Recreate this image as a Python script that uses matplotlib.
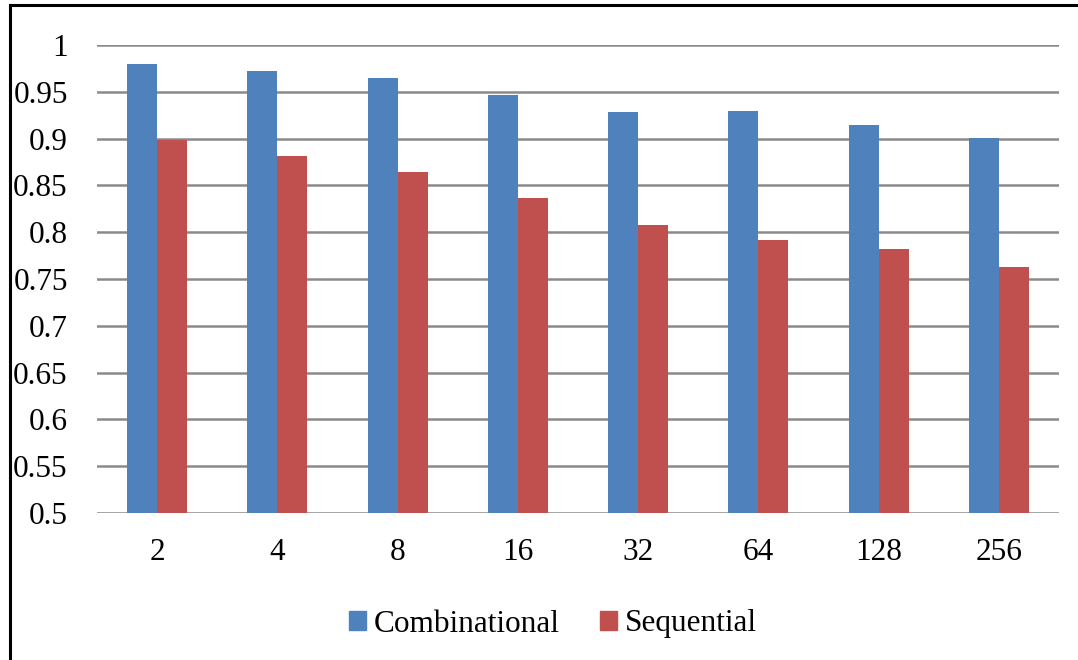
import numpy as np
import matplotlib.pyplot as plt
from matplotlib.lines import Line2D
from matplotlib.patches import Patch

sizes = ["2", "4", "8", "16", "32", "64", "128", "256"]
combinational = [0.980, 0.972, 0.965, 0.947, 0.928, 0.930, 0.915, 0.901]
sequential = [0.898, 0.881, 0.864, 0.837, 0.808, 0.792, 0.782, 0.763]

blue = "#4f81bd"
red = "#c0504d"

plt.rcParams['font.family'] = ['Liberation Serif', 'DejaVu Serif']

def main():
    fig = plt.figure(figsize=(10.78, 6.6), dpi=100)
    ax = fig.add_axes([97/1078, 1 - 513/660, (1059 - 97)/1078, (513 - 45)/660])

    x = np.arange(len(sizes))
    w = 0.25
    ax.bar(x - w/2, combinational, w, color=blue, zorder=3, label="Combinational")
    ax.bar(x + w/2, sequential, w, color=red, zorder=3, label="Sequential")

    ax.set_xlim(-0.5, len(sizes) - 0.5)
    ax.set_ylim(0.5, 1.0)
    yt = np.arange(0.5, 1.001, 0.05)
    ax.set_yticks(yt)
    ax.set_yticklabels([f"{v:.2f}".rstrip("0").rstrip(".") for v in yt])
    ax.set_xticks(x)
    ax.set_xticklabels(sizes)
    ax.tick_params(axis="both", length=0, labelsize=22.5)
    ax.tick_params(axis="x", pad=18)
    ax.tick_params(axis="y", pad=21)

    ax.grid(axis="y", color="#8a8a8a", linewidth=1.8, zorder=0)
    for s in ax.spines.values():
        s.set_visible(False)

    # outer frame: only top and left edges show
    fig.add_artist(Line2D([10/1078, 1], [1 - 5/660, 1 - 5/660], color="black", linewidth=2.2))
    fig.add_artist(Line2D([10/1078, 10/1078], [0, 1 - 5/660], color="black", linewidth=2.2))

    handles = [Patch(color=blue), Patch(color=red)]
    fig.legend(handles, ["Combinational", "Sequential"], loc="center",
               bbox_to_anchor=(553/1078, 1 - 624/660), ncol=2, frameon=False,
               fontsize=22.5, handlelength=0.55, handleheight=0.55,
               handletextpad=0.25, columnspacing=1.3)

    fig.savefig("out.png", dpi=100)

if __name__ == '__main__':
    main()
